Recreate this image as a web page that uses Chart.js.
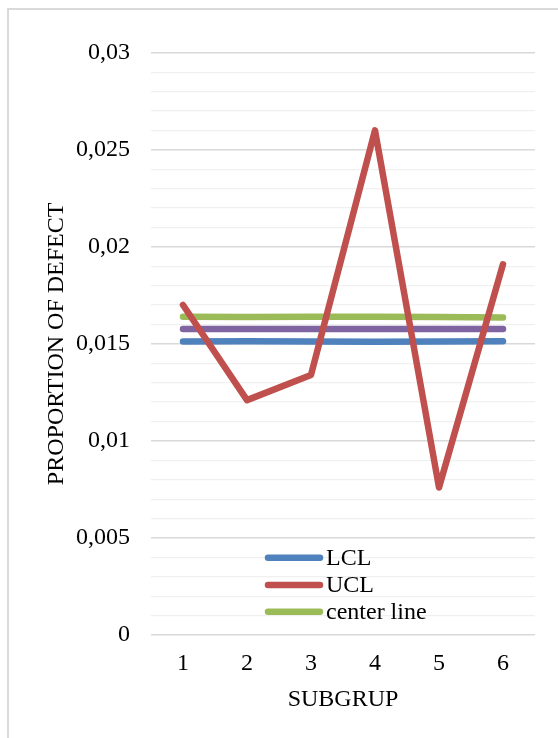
<!DOCTYPE html>
<html>
<head>
<meta charset="utf-8">
<script src="https://cdn.jsdelivr.net/npm/chart.js@4/dist/chart.umd.min.js"></script>
<style>
    html, body { margin: 0; padding: 0; background: #fff; }
    #frame { position: absolute; left: 7px; top: 8px; width: 551px; height: 740px;
             border-left: 2px solid #d9d9d9; border-top: 2px solid #d9d9d9; box-sizing: border-box; }
    #wrap { position: absolute; left: 0; top: 0; width: 558px; height: 738px; }
</style>
</head>
<body>
<div id="frame"></div>
<div id="wrap"><canvas id="chart"></canvas></div>
<script>
const subgroups = ["1", "2", "3", "4", "5", "6"];
const lclValues = [0.01512, 0.01514, 0.01512, 0.01511, 0.01512, 0.01513];
const uclValues = [0.0170, 0.0121, 0.0134, 0.0260, 0.0076, 0.0191];
const centerValues = [0.0164, 0.01638, 0.01639, 0.0164, 0.01638, 0.01636];
const series4Values = [0.01577, 0.01577, 0.01577, 0.01577, 0.01577, 0.01577];
const yTickLabels = ["0", "0,005", "0,01", "0,015", "0,02", "0,025", "0,03"];

const serif = "'Liberation Serif', 'Times New Roman', serif";

// legend drawn inside the plot, like the Excel original
const innerLegend = {
    id: "innerLegend",
    afterDatasetsDraw(chart) {
        const ctx = chart.ctx;
        const x0 = 268, x1 = 320, rowY = [557.7, 585, 611.7];
        chart.data.datasets.slice(0, 3).forEach((ds, i) => {
            ctx.save();
            ctx.strokeStyle = ds.borderColor;
            ctx.lineWidth = 6.5;
            ctx.lineCap = "round";
            ctx.beginPath();
            ctx.moveTo(x0, rowY[i]);
            ctx.lineTo(x1, rowY[i]);
            ctx.stroke();
            ctx.fillStyle = "#000";
            ctx.font = "24px " + serif;
            ctx.textBaseline = "middle";
            ctx.fillText(ds.label, 326, rowY[i] + 1);
            ctx.restore();
        });
    }
};

const lineStyle = { borderWidth: 6.5, pointRadius: 0, borderCapStyle: "round", borderJoinStyle: "round", tension: 0 };

new Chart(document.getElementById("chart"), {
    type: "line",
    data: {
        labels: subgroups,
        datasets: [
            { label: "LCL", data: lclValues, borderColor: "#4f81bd", order: 3, ...lineStyle },
            { label: "UCL", data: uclValues, borderColor: "#c0504d", order: 0, ...lineStyle },
            { label: "center line", data: centerValues, borderColor: "#9bbb59", order: 2, ...lineStyle },
            { label: "", data: series4Values, borderColor: "#8064a2", order: 1, ...lineStyle }
        ]
    },
    options: {
        responsive: true,
        maintainAspectRatio: false,
        animation: false,
        layout: { padding: { top: 52.7, right: 23, left: 0, bottom: 0 } },
        plugins: { legend: { display: false }, tooltip: { enabled: false } },
        scales: {
            x: {
                offset: true,
                grid: { display: false, drawTicks: false },
                border: { display: false },
                ticks: { color: "#000", font: { family: serif, size: 24 }, padding: 14 },
                title: { display: true, text: "SUBGRUP", color: "#000", font: { family: serif, size: 24 }, padding: { bottom: 24 } },
                afterFit(scale) { scale.height = 103; }
            },
            y: {
                min: 0,
                max: 0.03,
                grid: {
                    drawTicks: false,
                    color: ctx => Math.round(ctx.tick.value * 1000) % 5 === 0 ? "#d9d9d9" : "#f0f0f0",
                    lineWidth: ctx => Math.round(ctx.tick.value * 1000) % 5 === 0 ? 1.6 : 1.2
                },
                border: { display: false },
                ticks: {
                    stepSize: 0.001,
                    autoSkip: false,
                    padding: 21,
                    color: "#000",
                    font: { family: serif, size: 24 },
                    callback: value => {
                        const n = Math.round(value * 1000);
                        return n % 5 === 0 ? yTickLabels[n / 5] : "";
                    }
                },
                title: { display: true, text: "PROPORTION OF DEFECT", color: "#000", font: { family: serif, size: 24 }, padding: { top: 42 } },
                afterFit(scale) { scale.width = 151; }
            }
        }
    },
    plugins: [innerLegend]
});
</script>
</body>
</html>
